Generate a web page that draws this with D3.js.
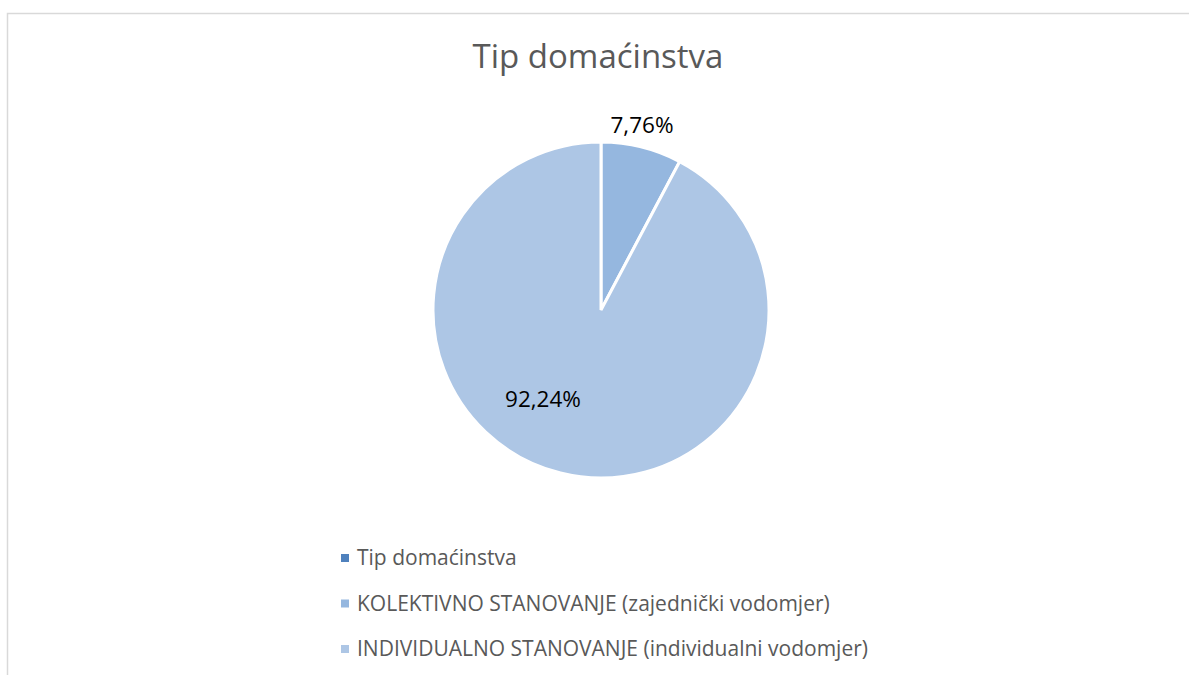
<!DOCTYPE html>
<html>
<head>
<meta charset="utf-8">
<script src="https://cdn.jsdelivr.net/npm/d3@7"></script>
<style>
  body { margin: 0; background: #fff; }
  svg { display: block; }
</style>
</head>
<body>
<script>
var width = 1189, height = 675;

// podaci
var categories = ["KOLEKTIVNO STANOVANJE (zajednički vodomjer)", "INDIVIDUALNO STANOVANJE (individualni vodomjer)"];
var values = [7.76, 92.24];
var labels = ["7,76%", "92,24%"];
var legendItems = ["Tip domaćinstva", "KOLEKTIVNO STANOVANJE (zajednički vodomjer)", "INDIVIDUALNO STANOVANJE (individualni vodomjer)"];
var legendColours = ["#4f81bd", "#95b7df", "#adc6e5"];
var sliceColours = ["#95b7df", "#adc6e5"];

var font = "'Open Sans', sans-serif";

var svg = d3.select("body").append("svg")
    .attr("width", width)
    .attr("height", height);

// okvir
svg.append("rect")
    .attr("x", 7.5)
    .attr("y", 13.5)
    .attr("width", width)
    .attr("height", height)
    .style("fill", "none")
    .style("stroke", "#d9d9d9")
    .style("stroke-width", 1.5);

svg.append("text")
    .attr("x", 598)
    .attr("y", 68)
    .style("text-anchor", "middle")
    .style("font-family", font)
    .style("font-size", "33px")
    .style("fill", "#595959")
    .text("Tip domaćinstva");

//
//**   Pita   **/
//

var cx = 601, cy = 310, r = 168;

var pie = d3.pie().sort(null)(values);
var arc = d3.arc().innerRadius(0).outerRadius(r);

var g = svg.append("g").attr("transform", "translate(" + cx + "," + cy + ")");

g.selectAll("path").data(pie).enter()
  .append("path")
    .attr("d", arc)
    .style("fill", function (d, i) { return sliceColours[i]; })
    .style("stroke", "#fff")
    .style("stroke-width", 3);

// oznake
g.selectAll("text.lbl").data(pie).enter()
  .append("text")
    .attr("class", "lbl")
    .attr("x", function (d, i) { return i == 0 ? 41 : -58; })
    .attr("y", function (d, i) { return i == 0 ? -177 : 97; })
    .style("text-anchor", "middle")
    .style("font-family", font)
    .style("font-size", "22.5px")
    .style("fill", "#000")
    .text(function (d, i) { return labels[i]; });

//
//**   Legenda   **/
//

var ly = d3.scalePoint().domain(legendItems).range([558, 649]);

var lg = svg.selectAll("g.leg").data(legendItems).enter()
  .append("g")
    .attr("class", "leg")
    .attr("transform", function (d) { return "translate(341," + ly(d) + ")"; });

lg.append("rect")
    .attr("x", 0)
    .attr("y", -4)
    .attr("width", 8)
    .attr("height", 8)
    .style("fill", function (d, i) { return legendColours[i]; });

lg.append("text")
    .attr("x", 16)
    .attr("y", 7)
    .style("font-family", font)
    .style("font-size", "21px")
    .style("fill", "#595959")
    .text(function (d) { return d; });
</script>
</body>
</html>
